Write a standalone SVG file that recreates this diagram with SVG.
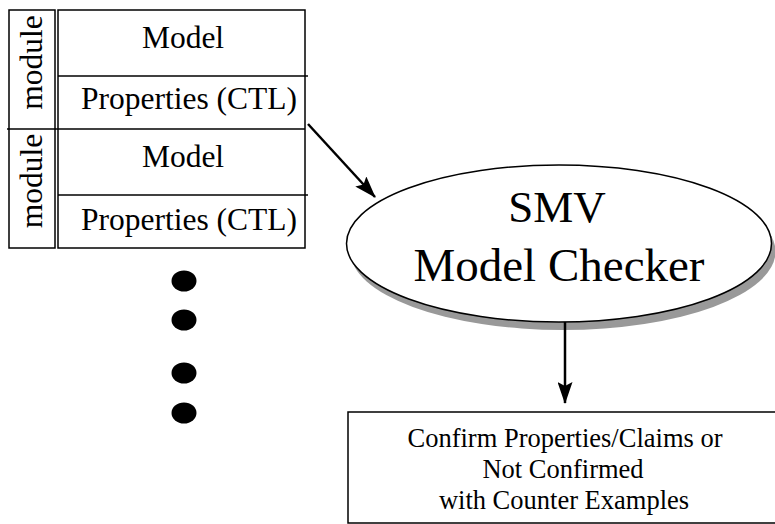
<svg xmlns="http://www.w3.org/2000/svg" width="775" height="524" viewBox="0 0 775 524">
<style>
.box{fill:#fff;stroke:#000;stroke-width:1.5}
.ln{stroke:#000;stroke-width:1.5;fill:none}
.t{font-family:"Liberation Serif","Times New Roman",serif;fill:#000}
.conn{stroke:#000;stroke-width:2.5;fill:none}
.dot{fill:#000}
</style>
<defs>
<marker id="arr" markerUnits="userSpaceOnUse" markerWidth="22" markerHeight="15" refX="21" refY="7.5" orient="auto" viewBox="0 0 22 15">
<path d="M0,0 L22,7.5 L0,15 L4,7.5 z" fill="#000"/>
</marker>
</defs>
<rect width="775" height="524" fill="#fff"/>
<g id="modules">
<rect class="box" x="9" y="10" width="46" height="238"/>
<line class="ln" x1="7" y1="129" x2="60" y2="129"/>
<rect class="box" x="58" y="10" width="247" height="238"/>
<line class="ln" x1="58" y1="76" x2="308" y2="76"/>
<line class="ln" x1="58" y1="129" x2="305" y2="129"/>
<line class="ln" x1="58" y1="195" x2="308" y2="195"/>
<text class="t" font-size="31.5" text-anchor="middle" transform="translate(42,62.5) rotate(-90)">module</text>
<text class="t" font-size="31.5" text-anchor="middle" transform="translate(42,181) rotate(-90)">module</text>
<text class="t" font-size="31.5" x="183" y="48" text-anchor="middle">Model</text>
<text class="t" font-size="31.5" x="189" y="109" text-anchor="middle">Properties (CTL)</text>
<text class="t" font-size="31.5" x="183" y="167" text-anchor="middle">Model</text>
<text class="t" font-size="31.5" x="189" y="230" text-anchor="middle">Properties (CTL)</text>
</g>
<g id="dots">
<ellipse class="dot" cx="184" cy="281" rx="12.5" ry="10.5"/>
<ellipse class="dot" cx="184" cy="320" rx="12.5" ry="10.5"/>
<ellipse class="dot" cx="184" cy="373" rx="12.5" ry="10.5"/>
<ellipse class="dot" cx="184" cy="413" rx="12.5" ry="10.5"/>
</g>
<g id="checker">
<ellipse cx="563" cy="251.5" rx="212.5" ry="78.5" fill="#999"/>
<ellipse cx="559" cy="243.5" rx="212.5" ry="78.5" fill="#fff" stroke="#000" stroke-width="1.5"/>
<text class="t" font-size="45" x="557" y="222" text-anchor="middle">SMV</text>
<text class="t" font-size="47" x="559" y="281" text-anchor="middle">Model Checker</text>
</g>
<g id="result">
<rect class="box" x="348" y="412" width="440" height="111"/>
<text class="t" font-size="26.5" x="565" y="447" text-anchor="middle">Confirm Properties/Claims or</text>
<text class="t" font-size="26.5" x="563" y="478" text-anchor="middle">Not Confirmed</text>
<text class="t" font-size="26.5" x="564" y="509" text-anchor="middle">with Counter Examples</text>
</g>
<g id="connectors">
<line class="conn" x1="308" y1="124" x2="375" y2="197" marker-end="url(#arr)"/>
<line class="conn" x1="565" y1="322" x2="565" y2="403" marker-end="url(#arr)"/>
</g>
</svg>
